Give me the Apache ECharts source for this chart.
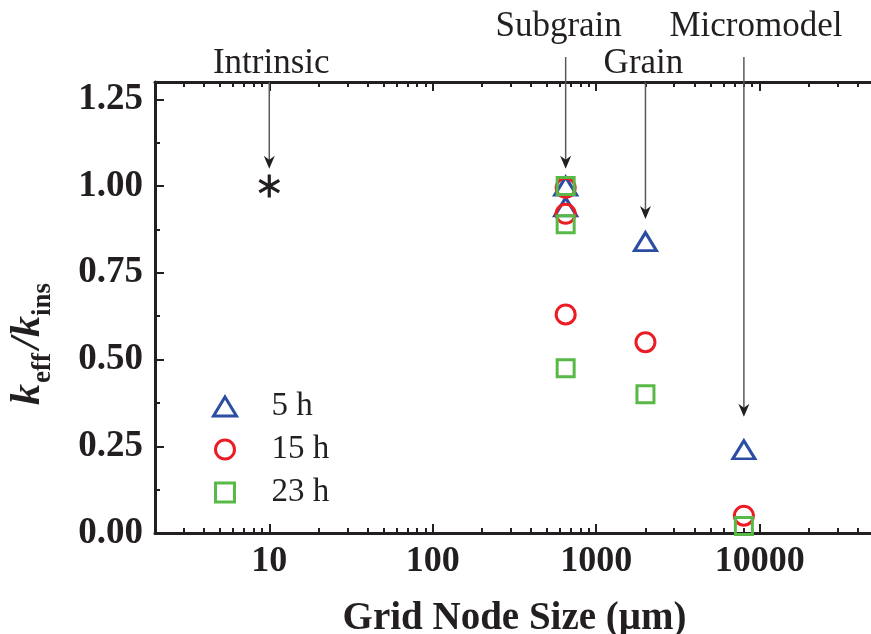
<!DOCTYPE html>
<html><head><meta charset="utf-8">
<script src="https://cdn.jsdelivr.net/npm/echarts@6/dist/echarts.min.js"></script>
<style>html,body{margin:0;padding:0;background:#fff}#c{width:871px;height:634px}</style>
</head><body><div id="c"></div>
<script>
// ---------- data ----------
const seriesNames = ['5 h', '15 h', '23 h'];
const x5h  = [650, 650, 2000, 8000];
const y5h  = [1.00, 0.94, 0.84, 0.24];
const x15h = [650, 650, 650, 2000, 8000];
const y15h = [0.995, 0.92, 0.63, 0.55, 0.05];
const x23h = [650, 650, 650, 2000, 8000];
const y23h = [1.00, 0.89, 0.475, 0.40, 0.02];
const xIntrinsic = [10];
const yIntrinsic = [1.00];

const xMajorTicks = [10, 100, 1000, 10000];
const xMinorTicks = [3, 4, 5, 6, 7, 8, 9, 20, 30, 40, 50, 60, 70, 80, 90,
  200, 300, 400, 500, 600, 700, 800, 900, 2000, 3000, 4000, 5000, 6000, 7000, 8000, 9000,
  20000, 30000, 40000];
const yMajorTicks = [0, 0.25, 0.5, 0.75, 1.0, 1.25];
const yMinorTicks = [0.125, 0.375, 0.625, 0.875, 1.125];

const annoLabels = ['Intrinsic', 'Subgrain', 'Grain', 'Micromodel'];
const annoX = [10, 650, 2000, 8000];
const annoTipY = [1.05, 1.05, 0.905, 0.335];

// ---------- style ----------
const ink = '#231f20';
const serif = "'Liberation Serif', 'Times New Roman', serif";
const colors = ['#2b4ea3', '#ec1c24', '#58b947'];
const annoLayout = [{row: 1, dx: 2}, {row: 0, dx: -7}, {row: 1, dx: -2}, {row: 0, dx: 12}];

const chart = echarts.init(document.getElementById('c'), null, {renderer: 'canvas'});

function xAx(pos, major) {
  return {
    type: 'log', logBase: 10, min: 2, max: 50000, position: pos,
    axisLine: {show: major, onZero: false, lineStyle: {color: ink, width: 3}},
    axisTick: {show: true, inside: true, length: major ? 9 : 5,
      customValues: major ? xMajorTicks : xMinorTicks, lineStyle: {color: ink, width: 2}},
    axisLabel: {show: false},
    splitLine: {show: false}, minorTick: {show: false}, minorSplitLine: {show: false}
  };
}
function yAx(major) {
  return {
    type: 'value', min: 0, max: 1.3, position: 'left',
    axisLine: {show: major, onZero: false, lineStyle: {color: ink, width: 3}},
    axisTick: {show: true, inside: true, length: major ? 9 : 5,
      customValues: major ? yMajorTicks : yMinorTicks, lineStyle: {color: ink, width: 2}},
    axisLabel: major ? {show: true, customValues: yMajorTicks, margin: 12, color: ink,
      fontFamily: serif, fontWeight: 'bold', fontSize: 37,
      formatter: v => Number(v).toFixed(2)} : {show: false},
    splitLine: {show: false}, minorTick: {show: false}, minorSplitLine: {show: false}
  };
}
const xBottom = xAx('bottom', true);
xBottom.axisLabel = {show: true, customValues: xMajorTicks, margin: 11, color: ink,
  fontFamily: serif, fontWeight: 'bold', fontSize: 36, formatter: v => String(Math.round(v))};
xBottom.name = 'Grid Node Size (\u03bcm)';
xBottom.nameLocation = 'middle';
xBottom.nameGap = 66;
xBottom.nameTextStyle = {color: ink, fontFamily: serif, fontWeight: 'bold', fontSize: 39};

function sc(name, xs, ys, symbol, size, color) {
  return {
    type: 'scatter', name, xAxisIndex: 0, yAxisIndex: 0,
    data: xs.map((x, i) => [x, ys[i]]),
    symbol, symbolSize: size,
    itemStyle: {color: 'transparent', borderColor: color, borderWidth: 3, opacity: 1},
    emphasis: {disabled: true}, clip: false
  };
}
const squarePath = 'path://M0,0L10,0L10,10L0,10Z';
const starPath = 'path://M9.159,-7.136L10.759,-4.364L-9.159,7.136L-10.759,4.364Z' +
  'M-1.6,-11.5L1.6,-11.5L1.6,11.5L-1.6,11.5Z' +
  'M10.759,4.364L9.159,7.136L-10.759,-4.364L-9.159,-7.136Z';

chart.setOption({
  animation: false,
  backgroundColor: '#fff',
  grid: {left: 155, right: -3, top: 82, bottom: 101, containLabel: false, outerBoundsMode: 'none'},
  xAxis: [xBottom, xAx('bottom', false), xAx('top', true), xAx('top', false)],
  yAxis: [yAx(true), yAx(false)],
  legend: {
    orient: 'vertical', left: 212, top: 390, padding: 0, itemWidth: 23, itemHeight: 19, itemGap: 10,
    selectedMode: false,
    data: [{name: seriesNames[0], icon: 'triangle'}, {name: seriesNames[1], icon: 'circle'},
           {name: seriesNames[2], icon: squarePath}],
    itemStyle: {borderWidth: 3, opacity: 1},
    textStyle: {fontFamily: serif, fontSize: 33, color: ink, lineHeight: 32, padding: [0, 0, 0, 30]}
  },
  series: [
    sc(seriesNames[0], x5h, y5h, 'triangle', [22, 18], colors[0]),
    sc(seriesNames[1], x15h, y15h, 'circle', 19, colors[1]),
    sc(seriesNames[2], x23h, y23h, squarePath, 17, colors[2]),
    {type: 'scatter', name: 'Intrinsic', xAxisIndex: 0, yAxisIndex: 0,
     data: xIntrinsic.map((x, i) => [x, yIntrinsic[i]]),
     symbol: starPath, symbolSize: [21.5, 23],
     itemStyle: {color: ink, borderWidth: 0, opacity: 1},
     emphasis: {disabled: true}}
  ]
});

// annotations (arrows + labels) placed through the axes' scales
const g = [];
annoLabels.forEach((lab, i) => {
  const L = annoLayout[i];
  const tip = chart.convertToPixel({xAxisIndex: 0, yAxisIndex: 0}, [annoX[i], annoTipY[i]]);
  const top = chart.convertToPixel({xAxisIndex: 0, yAxisIndex: 0}, [annoX[i], 1.3]);
  const startY = L.row === 0 ? 57 : top[1];
  const x = tip[0];
  g.push({type: 'line', shape: {x1: x, y1: startY, x2: x, y2: tip[1] - 8},
    style: {stroke: '#58595b', lineWidth: 1.5}, z: 100});
  g.push({type: 'polygon', shape: {points: [[x, tip[1]], [x - 5.5, tip[1] - 13], [x, tip[1] - 9], [x + 5.5, tip[1] - 13]]},
    style: {fill: ink}, z: 100});
  g.push({type: 'text', x: x + L.dx, y: L.row === 0 ? 27 : 64,
    style: {text: lab, font: '35px ' + serif, fill: ink, align: 'center', verticalAlign: 'middle'}, z: 100});
});
// y axis title: k_eff / k_ins (rotated)
g.push({type: 'group', x: 0, y: 405, rotation: Math.PI / 2, z: 100, children: [
  {type: 'text', x: 0, y: 28, style: {text: 'k', font: 'italic bold 42px ' + serif, fill: ink, align: 'left', verticalAlign: 'middle'}},
  {type: 'text', x: 22, y: 43.5, style: {text: 'eff', font: 'bold 27px ' + serif, fill: ink, align: 'left', verticalAlign: 'middle'}},
  {type: 'text', x: 56, y: 28, style: {text: '/', font: 'italic bold 42px ' + serif, fill: ink, align: 'left', verticalAlign: 'middle'}},
  {type: 'text', x: 68, y: 28, style: {text: 'k', font: 'italic bold 42px ' + serif, fill: ink, align: 'left', verticalAlign: 'middle'}},
  {type: 'text', x: 89, y: 43.5, style: {text: 'ins', font: 'bold 27px ' + serif, fill: ink, align: 'left', verticalAlign: 'middle'}}
]});
chart.setOption({graphic: g});
</script>
</body></html>
